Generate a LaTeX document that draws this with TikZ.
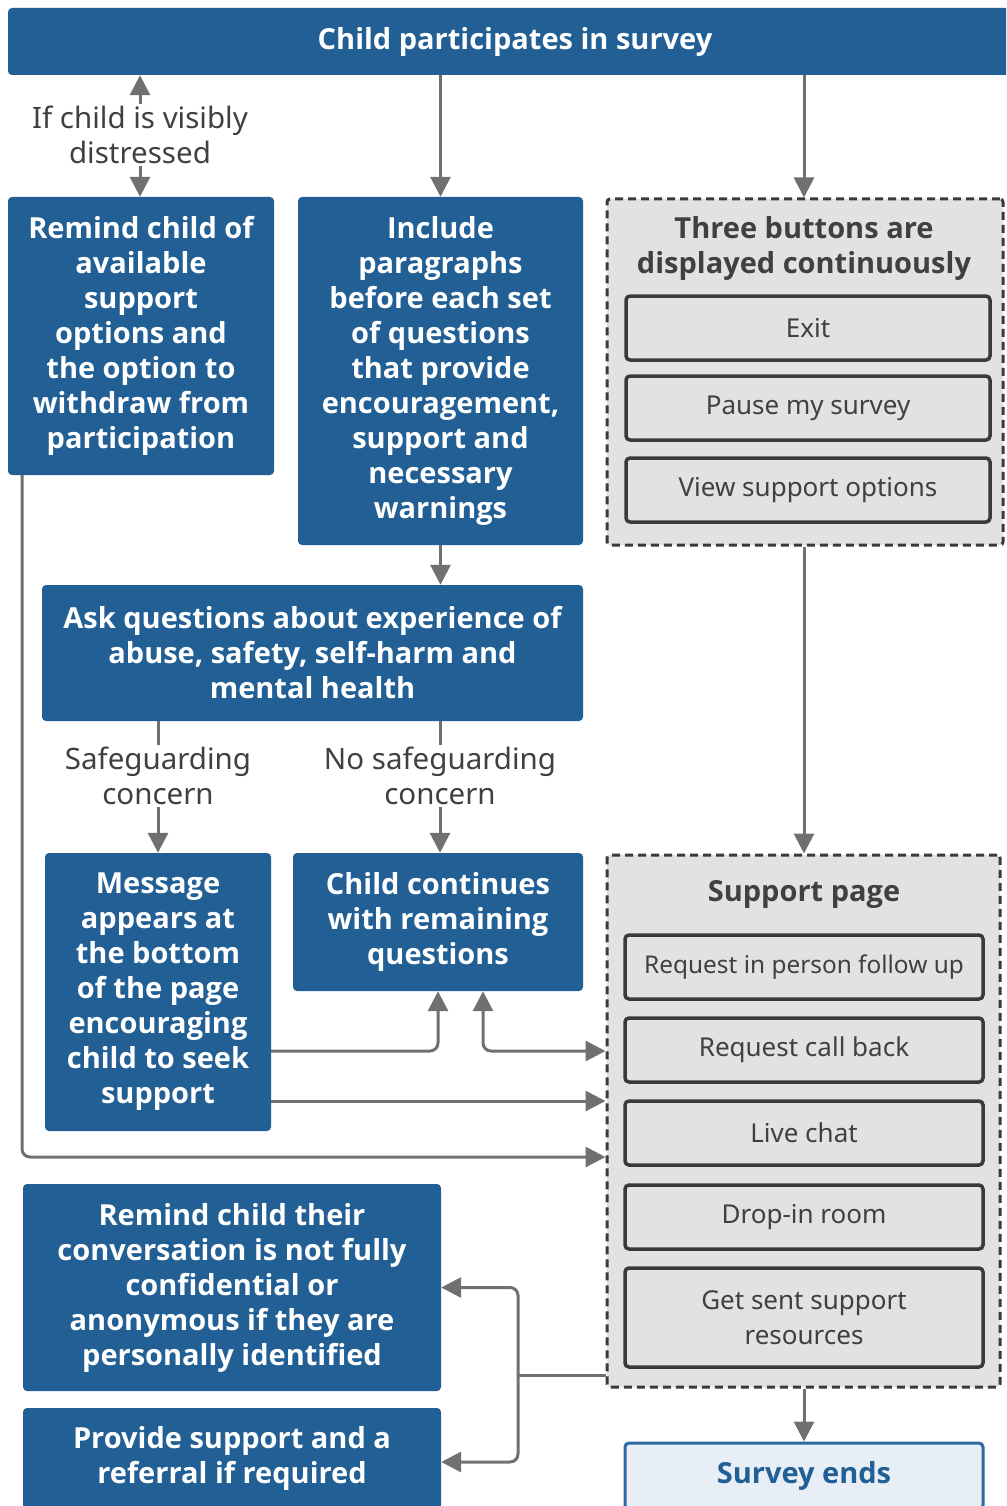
\documentclass[tikz,border=0pt]{standalone}
\usepackage{fontspec}
\setmainfont{Noto Sans}
\newfontfamily\bfam{Open Sans}
\usetikzlibrary{arrows.meta,calc}
\definecolor{nblue}{HTML}{225F95}
\definecolor{arrgray}{HTML}{707070}
\definecolor{boxgray}{HTML}{E2E2E2}
\definecolor{edgegray}{HTML}{3A3A3A}
\definecolor{txtgray}{HTML}{404040}
\definecolor{endfill}{HTML}{E8EEF6}
\definecolor{endedge}{HTML}{2C6AA0}
\begin{document}
\begin{tikzpicture}[x=1pt,y=-1pt,
  bluebox/.style={fill=nblue,rounded corners=4pt,text=white,
    font=\bfam\bfseries\fontsize{29}{35}\selectfont,align=center,inner sep=0pt},
  lbl/.style={text=txtgray,font=\fontsize{29.5}{35}\selectfont,align=center,inner sep=2pt},
  dashbox/.style={fill=boxgray,draw=edgegray,line width=3pt,dash pattern=on 8pt off 5pt,rounded corners=3pt,inner sep=0pt},
  titletxt/.style={text=txtgray,font=\bfam\bfseries\fontsize{29}{35}\selectfont,align=center,inner sep=0pt},
  btn/.style={fill=boxgray,draw=edgegray,line width=3.5pt,rounded corners=4pt,text=txtgray,
    font=\fontsize{26}{35}\selectfont,align=center,inner sep=0pt},
  endbox/.style={fill=endfill,draw=endedge,line width=3pt,rounded corners=4pt,text=nblue,
    font=\bfam\bfseries\fontsize{29}{35}\selectfont,align=center,inner sep=0pt},
  conn/.style={draw=arrgray,line width=3pt},
  arr/.style={conn,-{Triangle[width=20pt,length=20pt]}},
  arrb/.style={conn,{Triangle[width=20pt,length=20pt]}-{Triangle[width=20pt,length=20pt]}}
]
\useasboundingbox (0,0) rectangle (1006,1506);
\clip (0,0) rectangle (1006,1506);

% boxes
\node[bluebox,minimum width=1014pt,minimum height=67pt] (top) at (515,41.5) {Child participates in survey};
\node[bluebox,minimum width=266pt,minimum height=278pt] (remind) at (141,336)
  {Remind child of\\available\\support\\options and\\the option to\\withdraw from\\participation};
\node[bluebox,minimum width=285pt,minimum height=348pt] (include) at (440.5,371)
  {Include\\paragraphs\\before each set\\of questions\\that provide\\encouragement,\\support and\\necessary\\warnings};
\node[dashbox,minimum width=396pt,minimum height=346pt] (three) at (805,372) {};
\node[titletxt] (threet) at (804,248.5) {Three buttons are\\displayed continuously};
\node[btn,minimum width=364pt,minimum height=64pt] (exit) at (808,328) {Exit};
\node[btn,minimum width=364pt,minimum height=64pt] (pause) at (808,408) {Pause my survey};
\node[btn,minimum width=364pt,minimum height=64pt] (view) at (808,490) {View support options};

\node[bluebox,minimum width=541pt,minimum height=136pt] (ask) at (312.5,653)
  {Ask questions about experience of\\abuse, safety, self-harm and\\mental health};
\node[lbl] (sg) at (158,776) {Safeguarding\\concern};
\node[lbl] (nsg) at (440,776) {No safeguarding\\concern};
\node[bluebox,minimum width=226pt,minimum height=278pt] (msg) at (158,992)
  {Message\\appears at\\the bottom\\of the page\\encouraging\\child to seek\\support};
\node[bluebox,minimum width=290pt,minimum height=138pt] (cont) at (438,922)
  {Child continues\\with remaining\\questions};

\node[dashbox,minimum width=393pt,minimum height=532pt] (support) at (803.5,1121) {};
\node[titletxt] (supportt) at (804,894) {Support page};
\node[btn,minimum width=358pt,minimum height=64pt,font=\fontsize{24.4}{35}\selectfont] (rip) at (804,967) {Request in person follow up};
\node[btn,minimum width=358pt,minimum height=64pt] (rcb) at (804,1050) {Request call back};
\node[btn,minimum width=358pt,minimum height=64pt] (lc) at (804,1133) {Live chat};
\node[btn,minimum width=358pt,minimum height=64pt] (dir) at (804,1217) {Drop-in room};
\node[btn,minimum width=358pt,minimum height=99pt] (gss) at (804,1317.5) {Get sent support\\resources};

\node[bluebox,minimum width=418pt,minimum height=207pt] (conf) at (232,1287.5)
  {Remind child their\\conversation is not fully\\confidential or\\anonymous if they are\\personally identified};
\node[bluebox,minimum width=418pt,minimum height=101pt] (prov) at (232,1458.5)
  {Provide support and a\\referral if required};
\node[endbox,minimum width=358pt,minimum height=66pt] (ends) at (804,1476) {Survey ends};

\node[lbl] (dis) at (140,135) {If child is visibly\\distressed};

% connectors
\draw[arr] (dis.north) -- (dis.north |- top.south);
\draw[arr] (dis.south) -- (dis.south |- remind.north);
\draw[arr] (top.south -| include) -- (include.north);
\draw[arr] (top.south -| threet) -- (three.north -| threet);
\draw[arr] (include.south) -- (include.south |- ask.north);
\draw[conn] (ask.south -| sg) -- (sg.north);
\draw[arr] (sg.south) -- (sg.south |- msg.north);
\draw[conn] (ask.south -| nsg) -- (nsg.north);
\draw[arr] (nsg.south) -- (nsg.south |- cont.north);
\draw[arr] (three.south -| supportt) -- (support.north -| supportt);

\coordinate (r1) at (0,1051);
\coordinate (r2) at (0,1101);
\coordinate (r3) at (0,1157);
\coordinate (lx) at (22,0);
\coordinate (cx2) at (483,0);
\coordinate (bx) at (518,1375);

\draw[arr,rounded corners=8pt] (msg.east |- r1) -- (cont.south |- r1) -- (cont.south);
\draw[arrb,rounded corners=8pt] (cx2 |- cont.south) -- (cx2 |- r1) -- (support.west |- r1);
\draw[arr] (msg.east |- r2) -- (support.west |- r2);
\draw[arr,rounded corners=8pt] (remind.south -| lx) -- (lx |- r3) -- (support.west |- r3);
\draw[conn] (support.west |- bx) -- (bx);
\draw[arr,rounded corners=8pt] (bx) -- (bx |- conf.east) -- (conf.east);
\draw[arr,rounded corners=8pt] (bx) -- (bx |- 0,1462) -- (prov.east |- 0,1462);
\draw[arr] (support.south -| ends) -- (ends.north);
\end{tikzpicture}
\end{document}
